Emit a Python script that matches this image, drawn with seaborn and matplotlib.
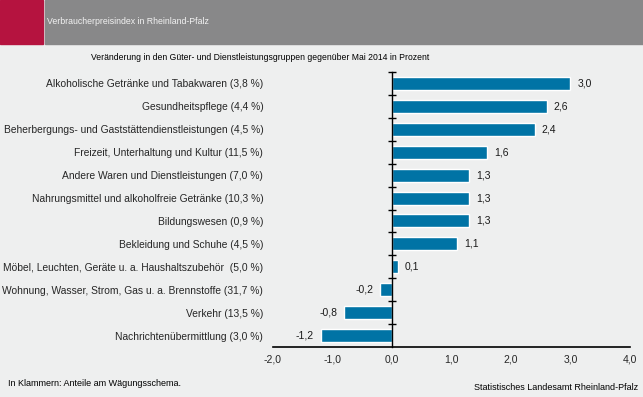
import matplotlib
matplotlib.use("Agg")
import matplotlib.pyplot as plt
import seaborn as sns
import pandas as pd
from matplotlib.patches import Rectangle
from matplotlib.ticker import FixedLocator, FuncFormatter

# Data
groups = [
    "Alkoholische Getränke und Tabakwaren (3,8 %)",
    "Gesundheitspflege (4,4 %)",
    "Beherbergungs- und Gaststättendienstleistungen (4,5 %)",
    "Freizeit, Unterhaltung und Kultur (11,5 %)",
    "Andere Waren und Dienstleistungen (7,0 %)",
    "Nahrungsmittel und alkoholfreie Getränke (10,3 %)",
    "Bildungswesen (0,9 %)",
    "Bekleidung und Schuhe (4,5 %)",
    "Möbel, Leuchten, Geräte u. a. Haushaltszubehör  (5,0 %)",
    "Wohnung, Wasser, Strom, Gas u. a. Brennstoffe (31,7 %)",
    "Verkehr (13,5 %)",
    "Nachrichtenübermittlung (3,0 %)",
]
changes = [3.0, 2.6, 2.4, 1.6, 1.3, 1.3, 1.3, 1.1, 0.1, -0.2, -0.8, -1.2]
x_ticks = [-2, -1, 0, 1, 2, 3, 4]

header_title = "Verbraucherpreisindex in Rheinland-Pfalz"
subtitle = "Veränderung in den Güter- und Dienstleistungsgruppen gegenüber Mai 2014 in Prozent"
footnote = "In Klammern: Anteile am Wägungsschema."
source = "Statistisches Landesamt Rheinland-Pfalz"

bg = "#EEEFEF"
bar_color = "#0073A5"

df = pd.DataFrame({"group": groups, "change": changes})

sns.set_style("white")
plt.rcParams["font.family"] = ["Liberation Sans", "DejaVu Sans"]

fig = plt.figure(figsize=(6.43, 3.97), dpi=100, facecolor=bg)
ax = fig.add_axes([273 / 643, 1 - 347 / 397, 357 / 643, 275 / 397])
ax.set_facecolor(bg)

sns.barplot(data=df, x="change", y="group", orient="h", color=bar_color,
            width=0.57, saturation=1, ax=ax)

ax.set_xlim(-2, 4)
ax.set_ylim(len(groups) - 0.5, -0.5)
ax.set_xlabel("")
ax.set_ylabel("")

# value labels
lab = [f"{v:.1f}".replace(".", ",") for v in changes]
ax.bar_label(ax.containers[0], labels=lab, padding=5, fontsize=7.5, color="#1a1a1a")

# x axis
ax.xaxis.set_major_locator(FixedLocator(x_ticks))
ax.xaxis.set_major_formatter(FuncFormatter(lambda v, p: f"{v:.1f}".replace(".", ",")))
ax.tick_params(axis="x", which="major", direction="out", length=4, width=1,
               color="black", labelsize=7.5, pad=1.5)

# y axis: labels at the left, zero line with boundary ticks
ax.tick_params(axis="y", which="major", left=False, right=False, length=0,
               labelsize=7.4, pad=7)
ax.yaxis.set_minor_locator(FixedLocator([i - 0.5 for i in range(len(groups))]))
ax.tick_params(axis="y", which="minor", left=False, right=True, direction="inout",
               length=6, width=1, color="black")

for s in ["top", "left"]:
    ax.spines[s].set_visible(False)
ax.spines["right"].set_position(("data", 0))
ax.spines["right"].set_color("black")
ax.spines["bottom"].set_color("black")
ax.spines["right"].set_linewidth(1)
ax.spines["bottom"].set_linewidth(1.2)

# header band
fig.patches.append(Rectangle((0, 1 - 44 / 397), 43 / 643, 44 / 397,
                             transform=fig.transFigure, color="#B5133F", zorder=0))
fig.patches.append(Rectangle((45 / 643, 1 - 44 / 397), 598 / 643, 44 / 397,
                             transform=fig.transFigure, color="#888889", zorder=0))
fig.text(47 / 643, 1 - 22 / 397, header_title, color="#F2F2F2", fontsize=6.3,
         va="center", ha="left")
fig.text(260 / 643, 1 - 57 / 397, subtitle, color="black", fontsize=6.25,
         va="center", ha="center")
fig.text(8 / 643, 1 - 383 / 397, footnote, color="black", fontsize=6.5,
         va="center", ha="left")
fig.text(638 / 643, 1 - 387 / 397, source, color="black", fontsize=6.5,
         va="center", ha="right")

fig.savefig("out.png", dpi=100, facecolor=bg)
